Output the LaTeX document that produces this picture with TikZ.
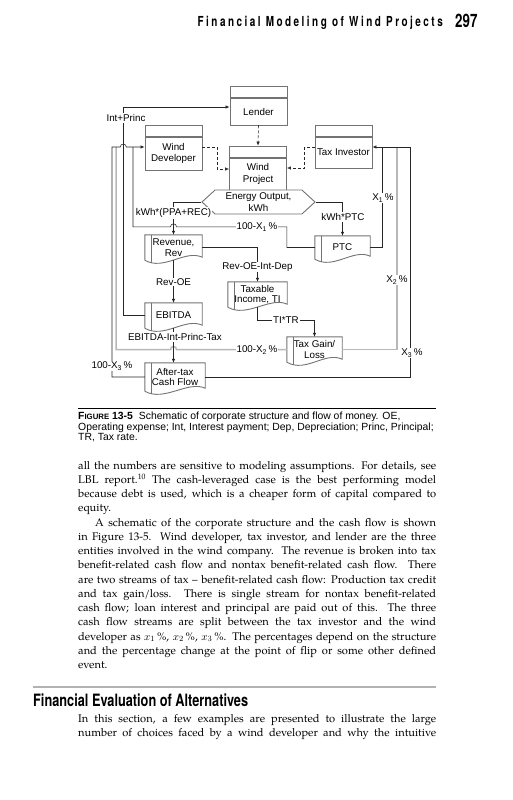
\documentclass[tikz,border=0pt]{standalone}
\usepackage{fontspec}
\setmainfont{TeX Gyre Pagella}
\newfontfamily\diafont{Liberation Sans}
\newfontfamily\capfont{Liberation Sans}
\newfontfamily\runfont[FakeStretch=0.72,LetterSpace=18]{TeX Gyre Heros}
\newfontfamily\numfont[FakeStretch=0.72]{TeX Gyre Heros}
\newfontfamily\secfont[FakeStretch=0.75]{TeX Gyre Heros}
\usetikzlibrary{arrows.meta, positioning, calc, shapes.symbols}

% wavy "document" outline with a side bar, drawn round a named node
\newcommand{\docoutline}[1]{%
  \draw[boxline] (#1.south west) -- (#1.north west) -- (#1.north east) -- ($(#1.south east)+(0,-3)$)
    .. controls +(-17,-8) and +(19,11) .. (#1.south west);
  \draw[boxline] ($(#1.north west)+(7,0)$) -- ($(#1.south west)+(7,3)$);}

\begin{document}
\begin{tikzpicture}[
    x=1pt, y=-1pt,
    boxline/.style={draw=black!55, line width=0.9pt},
    entity/.style={boxline, rectangle, minimum width=57pt, inner sep=1pt, align=center, font=\diafont\fontsize{9.8}{11.8}\selectfont},
    strip/.style={boxline, rectangle, minimum width=57pt, minimum height=11pt, inner sep=0pt},
    doc/.style={rectangle, minimum width=57pt, inner sep=1pt, align=center, font=\diafont\fontsize{9.8}{10.6}\selectfont},
    flow/.style={draw=black!85, line width=0.55pt},
    arrow/.style={flow, -{Latex[length=4pt, width=3.4pt]}},
    dasharrow/.style={arrow, dash pattern=on 3pt off 2pt},
    share/.style={draw=black!28, line width=1.5pt},
    lbl/.style={fill=white, inner sep=1pt, font=\diafont\fontsize{9.8}{11}\selectfont}
]
\fill[white] (0,0) rectangle (513,800);
\useasboundingbox (0,0) rectangle (513,800);

% running head
\node[anchor=base east, inner sep=0] (runhead) at (443,27) {\runfont\bfseries\fontsize{13.8}{14}\selectfont Financial Modeling of Wind Projects};
\node[anchor=base west, inner sep=0] (folio) at (455,27.5) {\numfont\bfseries\fontsize{18.5}{18}\selectfont 297};

% entities
\node[entity, minimum height=27pt] (lender) at (258.5,111.5) {Lender};
\node[strip, above=0pt of lender] (lenderTop) {};
\node[entity, minimum height=33pt] (dev) at (173.5,153.5) {Wind\\Developer};
\node[strip, minimum height=10.5pt, above=0pt of dev] (devTop) {};
\node[entity, minimum height=32pt] (proj) at (258,174) {Wind\\Project};
\node[strip, above=0pt of proj] (projTop) {};
\node[entity, minimum height=31pt] (taxinv) at (343.5,152.5) {Tax Investor};
\node[strip, above=0pt of taxinv] (taxinvTop) {};

\node[signal, signal to=west and east, signal pointer angle=85, boxline, fill=white,
      minimum width=113pt, minimum height=24pt, inner sep=0pt, align=center,
      font=\diafont\fontsize{9.8}{11.5}\selectfont] (energy) at (258.5,202) {Energy Output,\\kWh};

% cash flow documents
\node[doc, minimum height=25pt] (rev) at (173.5,247.5) {Revenue,\\Rev};
\node[doc, minimum height=25pt] (ebitda) at (173.5,315.5) {EBITDA};
\node[doc, minimum width=60pt, minimum height=28pt] (cash) at (175,377) {After-tax\\Cash Flow};
\node[doc, minimum width=59pt, minimum height=25pt] (taxable) at (257.5,294.5) {Taxable\\Income, TI};
\node[doc, minimum width=55pt, minimum height=25pt] (gain) at (314.5,349.5) {Tax Gain/\\Loss};
\node[doc, minimum width=55pt, minimum height=23pt] (ptc) at (342.5,247.5) {PTC};
\foreach \d in {rev, ebitda, cash, taxable, gain, ptc} {\docoutline{\d}}

% bus columns
\coordinate (busL3) at (112,147);
\coordinate (busL2) at (116,147);
\coordinate (busL1) at (133,147);
\coordinate (busR1) at (382,147);
\coordinate (busR2) at (397,147);
\coordinate (busR3) at (410,147);
\coordinate (devIn) at ([yshift=6.5pt]dev.west);
\coordinate (taxIn) at ([yshift=5.5pt]taxinv.east);

% equity links
\draw[dasharrow] (lender.south) -- (projTop.north);
\draw[dasharrow] ([yshift=6.5pt]dev.east) -- ++(15,0) |- ([yshift=5pt]proj.west);
\draw[dasharrow] ([yshift=5.5pt]taxinv.west) -- ++(-10,0) |- ([yshift=6pt]proj.east);

% X2 streams
\draw[share] (gain.west) -- ($(ebitda.south |- gain.west)+(3,0)$) arc[start angle=0, end angle=180, radius=3pt] -| (busL2);
\draw[share] (gain.east) -| (busR2);

% energy and revenue
\draw[arrow] (energy.west) -| (rev.north);
\draw[arrow] (energy.east) -| (ptc.north);
\draw[arrow] (rev.south) -- (ebitda.north);
\draw[arrow] (rev.east) -| (taxable.north);
\draw[arrow] (taxable.south) -- ++(0,13) -| (gain.north);
\draw[arrow] (ebitda.south) -- (ebitda.south |- cash.north);
\draw[arrow] (ebitda.west) -- ++(-21.5,0) coordinate (ipCorner) |- ([yshift=4.5pt]lender.west);

% X1 and X3 streams
\draw[flow] (ptc.west) -- ++(-28,0) |- ($(rev.north)+(3,-8)$) arc[start angle=0, end angle=180, radius=3pt] -| (busL1);
\draw[flow] (ptc.east) -| (busR1);
\draw[arrow] (cash.west) -| (busL3) -- ($(ipCorner |- devIn)+(-3,0)$) arc[start angle=180, end angle=0, radius=3pt] -- (devIn);
\draw[arrow] (cash.east) -| (busR3) -- (taxIn);

% labels
\node[lbl] (ipLbl) at (126,118) {Int+Princ};
\node[lbl] (ppaLbl) at (173.5,213) {kWh*(PPA+REC)};
\node[lbl] (x1dLbl) at (257,227) {100-X\textsubscript{1}\,\%};
\node[lbl] (ptcLbl) at (343,217) {kWh*PTC};
\node[lbl] (x1Lbl) at (383,198) {X\textsubscript{1}\,\%};
\node[lbl] (x2Lbl) at (397,280) {X\textsubscript{2}\,\%};
\node[lbl] (x3Lbl) at (412,353) {X\textsubscript{3}\,\%};
\node[lbl] (tiLbl) at (257.5,267) {Rev-OE-Int-Dep};
\node[lbl] (oeLbl) at (173.5,282) {Rev-OE};
\node[lbl] (trLbl) at (286,320) {TI*TR};
\node[lbl] (netLbl) at (175,337) {EBITDA-Int-Princ-Tax};
\node[lbl] (x2dLbl) at (257,350) {100-X\textsubscript{2}\,\%};
\node[lbl] (x3dLbl) at (112,366) {100-X\textsubscript{3}\,\%};

% caption
\draw[line width=0.8pt] (78,408) -- (436,408);
\node[anchor=base west, inner sep=0] (caption) at (78,419.5) {\begin{minipage}[t]{370pt}\raggedright
  \capfont\fontsize{10.4}{10.7}\selectfont
  \textbf{F{\fontsize{7.8}{8}\selectfont IGURE} 13-5}\hspace{6pt}Schematic of corporate structure and flow of money. OE,\\
  Operating expense; Int, Interest payment; Dep, Depreciation; Princ, Principal;\\
  TR, Tax rate.\end{minipage}};

% body text
\node[anchor=base west, inner sep=0] (body) at (78,469) {\begin{minipage}[t]{358pt}
  \fontsize{11.1}{14.25}\selectfont\tolerance=9999\hyphenpenalty=10000\parindent=17pt
  \noindent all the numbers are sensitive to modeling assumptions. For details, see\linebreak
  LBL report.\textsuperscript{10} The cash-leveraged case is the best performing model\linebreak
  because debt is used, which is a cheaper form of capital compared to\linebreak
  equity.\par
  A schematic of the corporate structure and the cash flow is shown\linebreak
  in Figure 13-5. Wind developer, tax investor, and lender are the three\linebreak
  entities involved in the wind company. The revenue is broken into tax\linebreak
  benefit-related cash flow and nontax benefit-related cash flow. There\linebreak
  are two streams of tax -- benefit-related cash flow: Production tax credit\linebreak
  and tax gain/loss. There is single stream for nontax benefit-related\linebreak
  cash flow; loan interest and principal are paid out of this. The three\linebreak
  cash flow streams are split between the tax investor and the wind\linebreak
  developer as $x_1$\,\%, $x_2$\,\%, $x_3$\,\%. The percentages depend on the structure\linebreak
  and the percentage change at the point of flip or some other defined\linebreak
  event.\end{minipage}};

% next section
\draw[line width=2.2pt, black!30] (33,687) -- (436,687);
\node[anchor=base west, inner sep=0] (sechead) at (33,706.5) {\secfont\bfseries\fontsize{17}{17}\selectfont Financial Evaluation of Alternatives};
\node[anchor=base west, inner sep=0] (body2) at (78,722) {\begin{minipage}[t]{358pt}
  \fontsize{11.1}{14.25}\selectfont\tolerance=9999\hyphenpenalty=10000\parfillskip=0pt
  In this section, a few examples are presented to illustrate the large\linebreak
  number of choices faced by a wind developer and why the intuitive\par\end{minipage}};
\end{tikzpicture}
\end{document}
